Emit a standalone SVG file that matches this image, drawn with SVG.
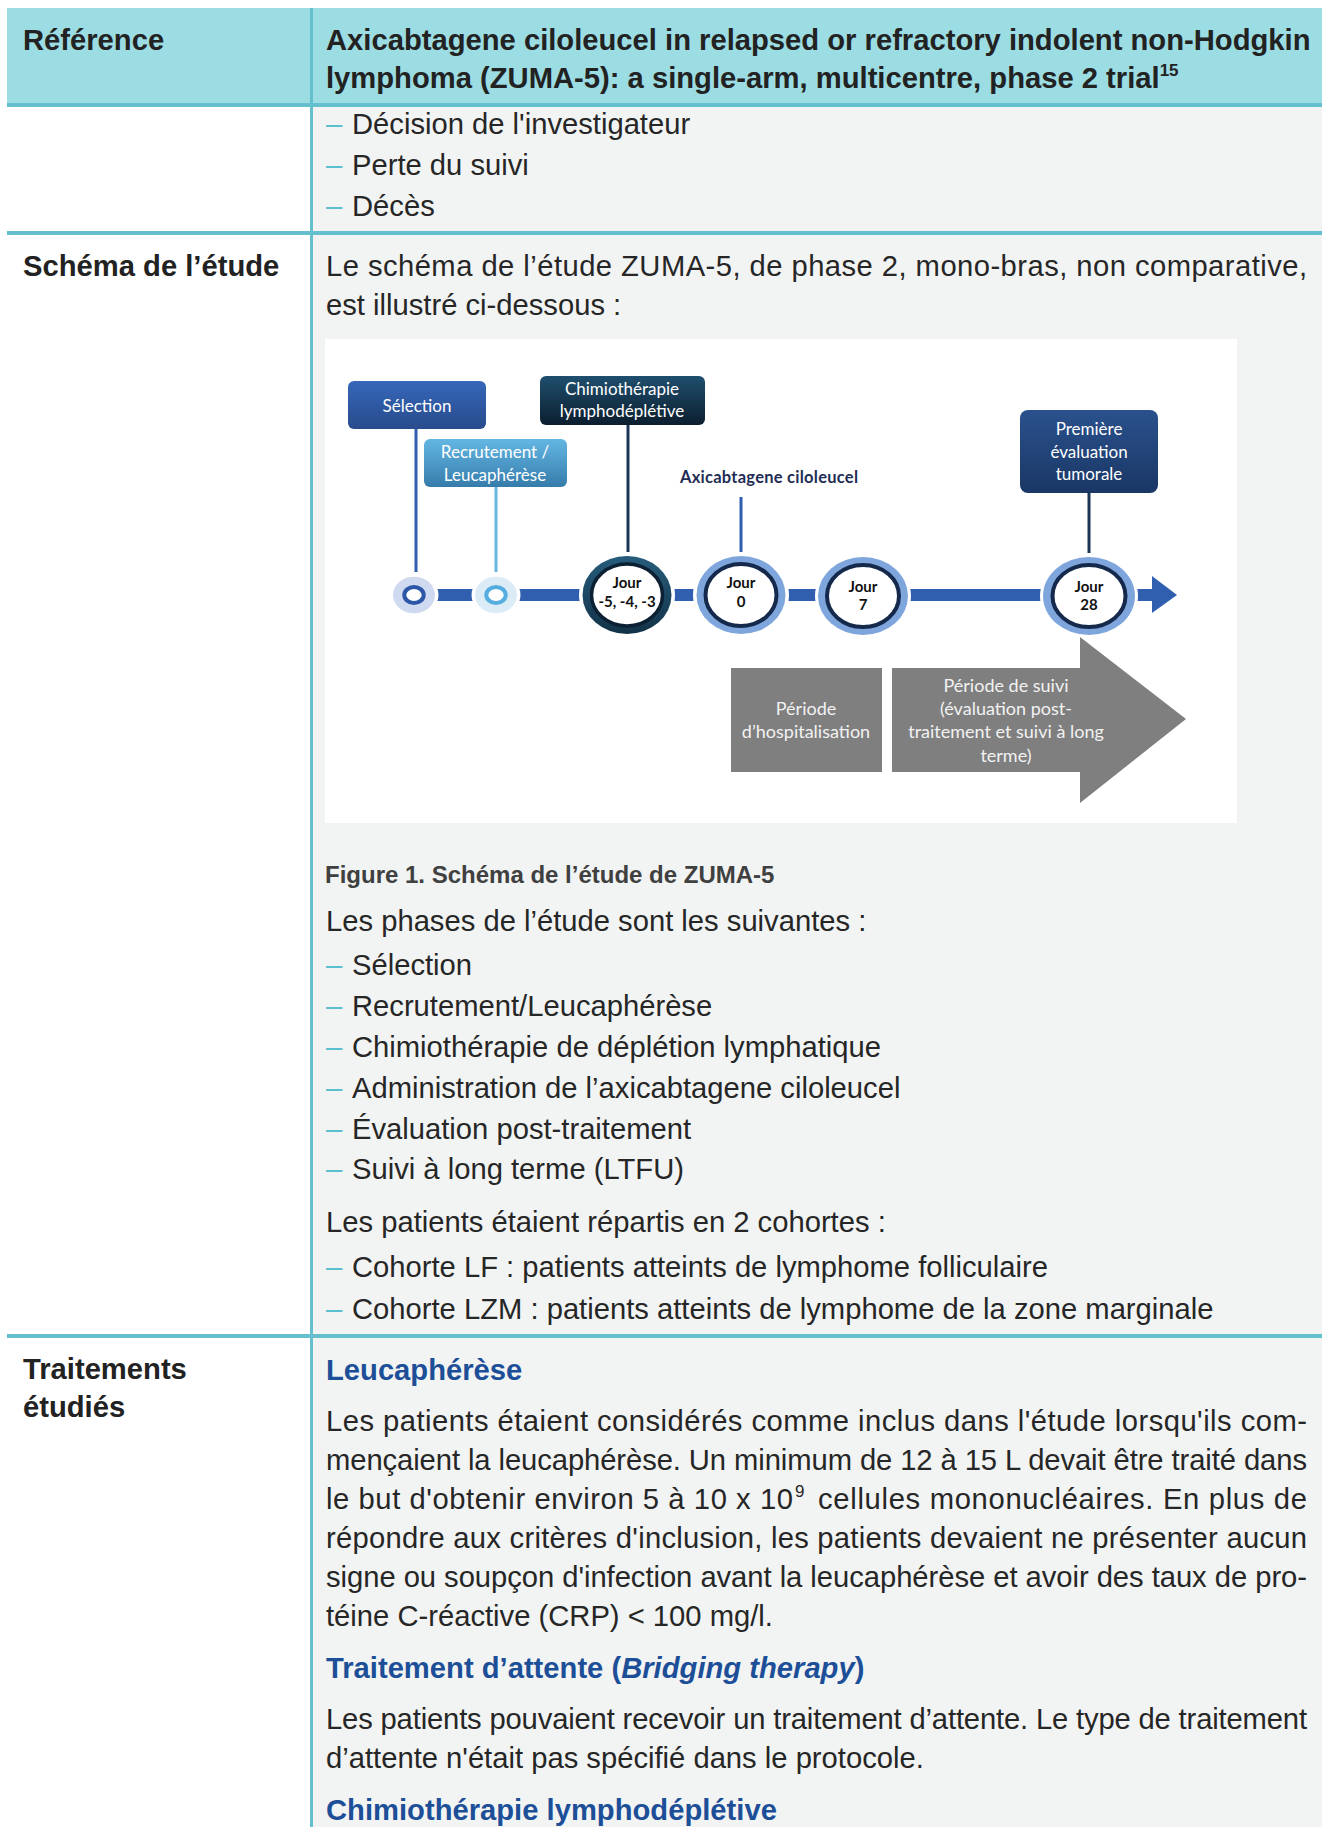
<svg xmlns="http://www.w3.org/2000/svg" width="1325" height="1827" viewBox="0 0 1325 1827">
<defs>
<linearGradient id="gSel" x1="0" y1="0" x2="0" y2="1"><stop offset="0" stop-color="#3667b9"/><stop offset="1" stop-color="#284b8c"/></linearGradient>
<linearGradient id="gRec" x1="0" y1="0" x2="0" y2="1"><stop offset="0" stop-color="#63b6e3"/><stop offset="1" stop-color="#367cab"/></linearGradient>
<linearGradient id="gChi" x1="0" y1="0" x2="0" y2="1"><stop offset="0" stop-color="#1f4f6e"/><stop offset="1" stop-color="#0c1e2e"/></linearGradient>
<linearGradient id="gPre" x1="0" y1="0" x2="0" y2="1"><stop offset="0" stop-color="#2a518d"/><stop offset="1" stop-color="#1a3765"/></linearGradient>
<linearGradient id="gDark" x1="0" y1="0" x2="0" y2="1"><stop offset="0" stop-color="#275c7c"/><stop offset="1" stop-color="#123248"/></linearGradient>
<style>
.t{font-family:"Liberation Sans",Arial,sans-serif;font-size:29.2px;fill:#262626}
.bd{font-weight:bold;fill:#222}
.dash{fill:#5bbfce}
.hd{font-weight:bold;fill:#1d4f98}
.cap{font-family:"Liberation Sans",Arial,sans-serif;font-size:24px;font-weight:bold;fill:#404040}
.lbl{font-family:Lato,"Open Sans",sans-serif;font-size:17px;fill:#ffffff;text-anchor:middle}
.per{font-family:Lato,"Open Sans",sans-serif;font-size:18px;fill:#f2f2f2;text-anchor:middle}
.jr{font-family:Lato,"Open Sans",sans-serif;font-size:15px;font-weight:bold;fill:#111;text-anchor:middle}
.axi{font-family:Lato,"Open Sans",sans-serif;font-size:16.5px;font-weight:bold;fill:#1f2d55;text-anchor:middle}
.teal{fill:#63c0cc}
.ln{stroke-width:3;fill:none}
</style>
</defs>
<rect x="0" y="0" width="1325" height="1827" fill="#ffffff"/>

<g id="table">
<rect x="7" y="8" width="1315" height="95" fill="#9cdce3"/>
<rect x="313" y="107" width="1009" height="1720" fill="#f2f4f3"/>
<rect class="teal" x="7" y="103" width="1315" height="4"/>
<rect class="teal" x="7" y="231" width="1315" height="4"/>
<rect class="teal" x="7" y="1334" width="1315" height="4"/>
<rect class="teal" x="310" y="8" width="3" height="1819"/>
</g>

<g id="header">
<text class="t bd" x="23" y="50">Référence</text>
<text class="t bd" x="326" y="50">Axicabtagene ciloleucel in relapsed or refractory indolent non-Hodgkin</text>
<text class="t bd" x="326" y="88">lymphoma (ZUMA-5): a single-arm, multicentre, phase 2 trial<tspan style="font-size:17px" dy="-12">15</tspan></text>
</g>

<g id="row1">
<text class="t" x="326" y="134"><tspan class="dash">–</tspan><tspan x="352">Décision de l'investigateur</tspan></text>
<text class="t" x="326" y="175"><tspan class="dash">–</tspan><tspan x="352">Perte du suivi</tspan></text>
<text class="t" x="326" y="216"><tspan class="dash">–</tspan><tspan x="352">Décès</tspan></text>
</g>

<g id="row2">
<text class="t bd" x="23" y="276">Schéma de l’étude</text>
<text class="t" x="326" y="276" textLength="981" lengthAdjust="spacing">Le schéma de l’étude ZUMA-5, de phase 2, mono-bras, non comparative,</text>
<text class="t" x="326" y="315">est illustré ci-dessous :</text>
</g>

<g id="figure">
<rect id="panel" x="325" y="339" width="912" height="484" fill="#ffffff"/>

<g id="connectors">
<rect x="436" y="589" width="718" height="12" fill="#2f5fae"/>
<polygon points="1152,576 1177,595 1152,613" fill="#2f5fae"/>
<line class="ln" x1="416" y1="429" x2="416" y2="572" stroke="#2f5fae"/>
<line class="ln" x1="496" y1="487" x2="496" y2="572" stroke="#6ab6e3"/>
<line class="ln" x1="628" y1="425" x2="628" y2="552" stroke="#1b3556"/>
<line class="ln" x1="741" y1="497" x2="741" y2="552" stroke="#2f5fae"/>
<line class="ln" x1="1089" y1="493" x2="1089" y2="553" stroke="#1b3556"/>
</g>

<g id="box-selection">
<rect x="348" y="381" width="138" height="48" rx="6" fill="url(#gSel)"/>
<text class="lbl" x="417" y="412">Sélection</text>
</g>
<g id="box-recrutement">
<rect x="424" y="439" width="143" height="48" rx="6" fill="url(#gRec)"/>
<text class="lbl" x="495" y="458">Recrutement /</text>
<text class="lbl" x="495" y="481">Leucaphérèse</text>
</g>
<g id="box-chimio">
<rect x="540" y="376" width="165" height="49" rx="6" fill="url(#gChi)"/>
<text class="lbl" x="622" y="395">Chimiothérapie</text>
<text class="lbl" x="622" y="417">lymphodéplétive</text>
</g>
<g id="label-axi">
<text class="axi" x="769" y="483" textLength="178" lengthAdjust="spacing">Axicabtagene ciloleucel</text>
</g>
<g id="box-premiere">
<rect x="1020" y="410" width="138" height="83" rx="8" fill="url(#gPre)"/>
<text class="lbl" x="1089" y="435">Première</text>
<text class="lbl" x="1089" y="458">évaluation</text>
<text class="lbl" x="1089" y="480">tumorale</text>
</g>

<g id="node-c1">
<ellipse cx="414" cy="595" rx="24.5" ry="21.5" fill="#ffffff"/>
<ellipse cx="414" cy="595" rx="21" ry="18.3" fill="#cfd9ef"/>
<ellipse cx="414" cy="595" rx="9.7" ry="8" fill="#ffffff" stroke="#2c56a6" stroke-width="4"/>
</g>
<g id="node-c2">
<ellipse cx="496" cy="595" rx="24.5" ry="21.5" fill="#ffffff"/>
<ellipse cx="496" cy="595" rx="21" ry="18.3" fill="#dbecf7"/>
<ellipse cx="496" cy="595" rx="9.7" ry="8" fill="#ffffff" stroke="#56ade0" stroke-width="4"/>
</g>
<g id="node-jm5">
<ellipse cx="627" cy="595" rx="48" ry="42" fill="#ffffff"/>
<ellipse cx="627" cy="595" rx="44.5" ry="39" fill="url(#gDark)"/>
<ellipse cx="627" cy="595" rx="35.5" ry="31" fill="#ffffff" stroke="#0c2033" stroke-width="3.5"/>
<text class="jr" x="627" y="588">Jour</text>
<text class="jr" x="627" y="607">-5, -4, -3</text>
</g>
<g id="node-j0">
<ellipse cx="741" cy="595" rx="48" ry="42" fill="#ffffff"/>
<ellipse cx="741" cy="595" rx="44.5" ry="39" fill="#7ea5dc"/>
<ellipse cx="741" cy="595" rx="35.5" ry="31" fill="#ffffff" stroke="#14294b" stroke-width="4"/>
<text class="jr" x="741" y="588">Jour</text>
<text class="jr" x="741" y="607">0</text>
</g>
<g id="node-j7">
<ellipse cx="863" cy="596" rx="48" ry="42" fill="#ffffff"/>
<ellipse cx="863" cy="596" rx="45" ry="39" fill="#7ea5dc"/>
<ellipse cx="863" cy="596" rx="36" ry="31" fill="#ffffff" stroke="#14294b" stroke-width="4"/>
<text class="jr" x="863" y="592">Jour</text>
<text class="jr" x="863" y="610">7</text>
</g>
<g id="node-j28">
<ellipse cx="1089" cy="596" rx="49" ry="42" fill="#ffffff"/>
<ellipse cx="1089" cy="596" rx="46" ry="39" fill="#7ea5dc"/>
<ellipse cx="1089" cy="596" rx="36.5" ry="31" fill="#ffffff" stroke="#14294b" stroke-width="4"/>
<text class="jr" x="1089" y="592">Jour</text>
<text class="jr" x="1089" y="610">28</text>
</g>

<g id="box-hospitalisation">
<rect x="731" y="668" width="151" height="104" fill="#7f7f7f"/>
<text class="per" x="806" y="715">Période</text>
<text class="per" x="806" y="738">d’hospitalisation</text>
</g>
<g id="arrow-suivi">
<polygon points="892,668 1080,668 1080,637 1186,719 1080,803 1080,772 892,772" fill="#7f7f7f"/>
<text class="per" x="1006" y="692">Période de suivi</text>
<text class="per" x="1006" y="715">(évaluation post-</text>
<text class="per" x="1006" y="738">traitement et suivi à long</text>
<text class="per" x="1006" y="762">terme)</text>
</g>
</g>

<g id="row2-text">
<text class="cap" x="325" y="883">Figure 1. Schéma de l’étude de ZUMA-5</text>
<text class="t" x="326" y="931">Les phases de l’étude sont les suivantes :</text>
<text class="t" x="326" y="975"><tspan class="dash">–</tspan><tspan x="352">Sélection</tspan></text>
<text class="t" x="326" y="1016"><tspan class="dash">–</tspan><tspan x="352">Recrutement/Leucaphérèse</tspan></text>
<text class="t" x="326" y="1057"><tspan class="dash">–</tspan><tspan x="352">Chimiothérapie de déplétion lymphatique</tspan></text>
<text class="t" x="326" y="1098"><tspan class="dash">–</tspan><tspan x="352">Administration de l’axicabtagene ciloleucel</tspan></text>
<text class="t" x="326" y="1139"><tspan class="dash">–</tspan><tspan x="352">Évaluation post-traitement</tspan></text>
<text class="t" x="326" y="1179"><tspan class="dash">–</tspan><tspan x="352">Suivi à long terme (LTFU)</tspan></text>
<text class="t" x="326" y="1232">Les patients étaient répartis en 2 cohortes :</text>
<text class="t" x="326" y="1277"><tspan class="dash">–</tspan><tspan x="352">Cohorte LF : patients atteints de lymphome folliculaire</tspan></text>
<text class="t" x="326" y="1319"><tspan class="dash">–</tspan><tspan x="352">Cohorte LZM : patients atteints de lymphome de la zone marginale</tspan></text>
</g>

<g id="row3">
<text class="t bd" x="23" y="1379">Traitements</text>
<text class="t bd" x="23" y="1417">étudiés</text>
<text class="t hd" x="326" y="1380">Leucaphérèse</text>
<text class="t" x="326" y="1431" textLength="981" lengthAdjust="spacing">Les patients étaient considérés comme inclus dans l'étude lorsqu'ils com-</text>
<text class="t" x="326" y="1470" textLength="981" lengthAdjust="spacing">mençaient la leucaphérèse. Un minimum de 12 à 15 L devait être traité dans</text>
<text class="t" x="326" y="1509" textLength="467" lengthAdjust="spacing">le but d'obtenir environ 5 à 10 x 10</text>
<text class="t" x="795" y="1497" style="font-size:17px">9</text>
<text class="t" x="818" y="1509" textLength="489" lengthAdjust="spacing">cellules mononucléaires. En plus de</text>
<text class="t" x="326" y="1548" textLength="981" lengthAdjust="spacing">répondre aux critères d'inclusion, les patients devaient ne présenter aucun</text>
<text class="t" x="326" y="1587" textLength="981" lengthAdjust="spacing">signe ou soupçon d'infection avant la leucaphérèse et avoir des taux de pro-</text>
<text class="t" x="326" y="1626">téine C-réactive (CRP) &lt; 100 mg/l.</text>
<text class="t hd" x="326" y="1678">Traitement d’attente (<tspan font-style="italic">Bridging therapy</tspan>)</text>
<text class="t" x="326" y="1729" textLength="981" lengthAdjust="spacing">Les patients pouvaient recevoir un traitement d’attente. Le type de traitement</text>
<text class="t" x="326" y="1768">d’attente n'était pas spécifié dans le protocole.</text>
<text class="t hd" x="326" y="1820">Chimiothérapie lymphodéplétive</text>
</g>
</svg>
